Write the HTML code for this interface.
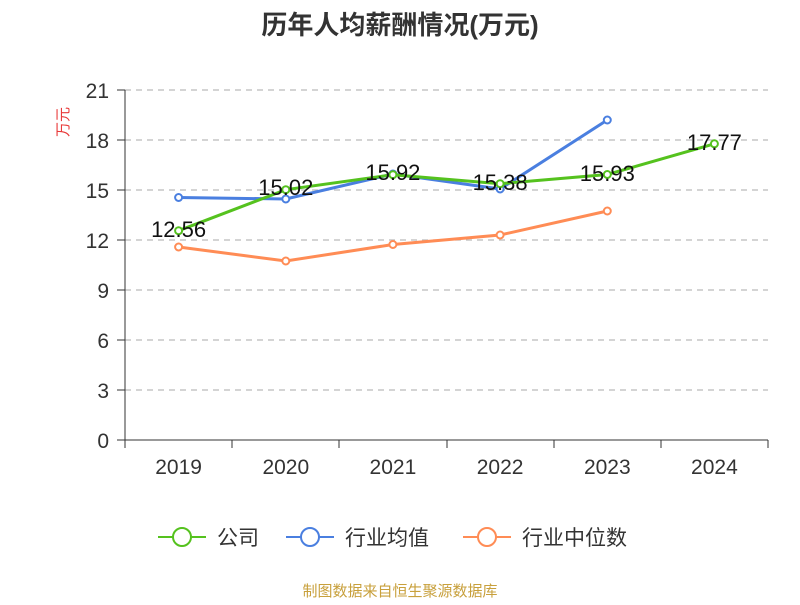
<!DOCTYPE html>
<html><head><meta charset="utf-8"><style>
body{margin:0;background:#fff;}
svg text{font-family:"Liberation Sans","Noto Sans CJK SC",sans-serif;}
</style></head><body>
<svg width="800" height="600" xmlns="http://www.w3.org/2000/svg">
<rect width="800" height="600" fill="#fff"/>
<text x="400" y="34" text-anchor="middle" font-size="26" font-weight="bold" fill="#333">历年人均薪酬情况(万元)</text>
<text x="70" y="124" font-size="15" fill="#e83a3a" text-anchor="middle" transform="rotate(-90 68 124)">万元</text>
<g stroke="#bbb" stroke-dasharray="6,5" stroke-width="1.2">
<line x1="125" y1="90" x2="768" y2="90"/><line x1="125" y1="140" x2="768" y2="140"/>
<line x1="125" y1="190" x2="768" y2="190"/><line x1="125" y1="240" x2="768" y2="240"/>
<line x1="125" y1="290" x2="768" y2="290"/><line x1="125" y1="340" x2="768" y2="340"/>
<line x1="125" y1="390" x2="768" y2="390"/>
</g>
<g stroke="#333" stroke-width="1">
<line x1="125" y1="90" x2="125" y2="440"/>
<line x1="125" y1="440" x2="768" y2="440"/>
<line x1="117" y1="90" x2="125" y2="90"/><line x1="117" y1="140" x2="125" y2="140"/>
<line x1="117" y1="190" x2="125" y2="190"/><line x1="117" y1="240" x2="125" y2="240"/>
<line x1="117" y1="290" x2="125" y2="290"/><line x1="117" y1="340" x2="125" y2="340"/>
<line x1="117" y1="390" x2="125" y2="390"/><line x1="117" y1="440" x2="125" y2="440"/>
<line x1="125" y1="440" x2="125" y2="448"/><line x1="232" y1="440" x2="232" y2="448"/>
<line x1="339" y1="440" x2="339" y2="448"/><line x1="447" y1="440" x2="447" y2="448"/>
<line x1="554" y1="440" x2="554" y2="448"/><line x1="661" y1="440" x2="661" y2="448"/>
<line x1="768" y1="440" x2="768" y2="448"/>
</g>
<g font-size="21" fill="#333" text-anchor="end">
<text x="109" y="98">21</text><text x="109" y="148">18</text><text x="109" y="198">15</text>
<text x="109" y="248">12</text><text x="109" y="298">9</text><text x="109" y="348">6</text>
<text x="109" y="398">3</text><text x="109" y="448">0</text>
</g>
<g font-size="21" fill="#333" text-anchor="middle">
<text x="178.6" y="474">2019</text><text x="285.8" y="474">2020</text><text x="392.9" y="474">2021</text>
<text x="500.1" y="474">2022</text><text x="607.3" y="474">2023</text><text x="714.4" y="474">2024</text>
</g>
<g fill="#fff" stroke-width="2">
<polyline fill="none" stroke="#ff8c55" stroke-width="3" points="178.6,247 285.8,261 392.9,244.5 500.1,235 607.3,211"/>
<g stroke="#ff8c55"><circle cx="178.6" cy="247" r="3.5"/><circle cx="285.8" cy="261" r="3.5"/><circle cx="392.9" cy="244.5" r="3.5"/><circle cx="500.1" cy="235" r="3.5"/><circle cx="607.3" cy="211" r="3.5"/></g>
<polyline fill="none" stroke="#4a7fe0" stroke-width="3" points="178.6,197.5 285.8,199 392.9,174 500.1,189 607.3,120"/>
<g stroke="#4a7fe0"><circle cx="178.6" cy="197.5" r="3.5"/><circle cx="285.8" cy="199" r="3.5"/><circle cx="392.9" cy="174" r="3.5"/><circle cx="500.1" cy="189" r="3.5"/><circle cx="607.3" cy="120" r="3.5"/></g>
<polyline fill="none" stroke="#55c21e" stroke-width="3" points="178.6,230.7 285.8,189.7 392.9,174.7 500.1,183.7 607.3,174.5 714.4,143.8"/>
<g stroke="#55c21e"><circle cx="178.6" cy="230.7" r="3.5"/><circle cx="285.8" cy="189.7" r="3.5"/><circle cx="392.9" cy="174.7" r="3.5"/><circle cx="500.1" cy="183.7" r="3.5"/><circle cx="607.3" cy="174.5" r="3.5"/><circle cx="714.4" cy="143.8" r="3.5"/></g>
</g>
<g font-size="22" fill="#111" text-anchor="middle">
<text x="178.6" y="237">12.56</text><text x="285.8" y="195">15.02</text><text x="392.9" y="180">15.92</text>
<text x="500.1" y="190">15.38</text><text x="607.3" y="181">15.93</text><text x="714.4" y="150">17.77</text>
</g>
<g stroke-width="2" fill="#fff">
<line x1="158" y1="537" x2="206" y2="537" stroke="#55c21e"/><circle cx="182" cy="537" r="9" stroke="#55c21e"/>
<line x1="286" y1="537" x2="334" y2="537" stroke="#4a7fe0"/><circle cx="310" cy="537" r="9" stroke="#4a7fe0"/>
<line x1="463" y1="537" x2="511" y2="537" stroke="#ff8c55"/><circle cx="487" cy="537" r="9" stroke="#ff8c55"/>
</g>
<g font-size="21" fill="#333">
<text x="217" y="545">公司</text><text x="345" y="545">行业均值</text><text x="522" y="545">行业中位数</text>
</g>
<text x="400" y="596" text-anchor="middle" font-size="15" fill="#c8a03c">制图数据来自恒生聚源数据库</text>
</svg>
</body></html>
